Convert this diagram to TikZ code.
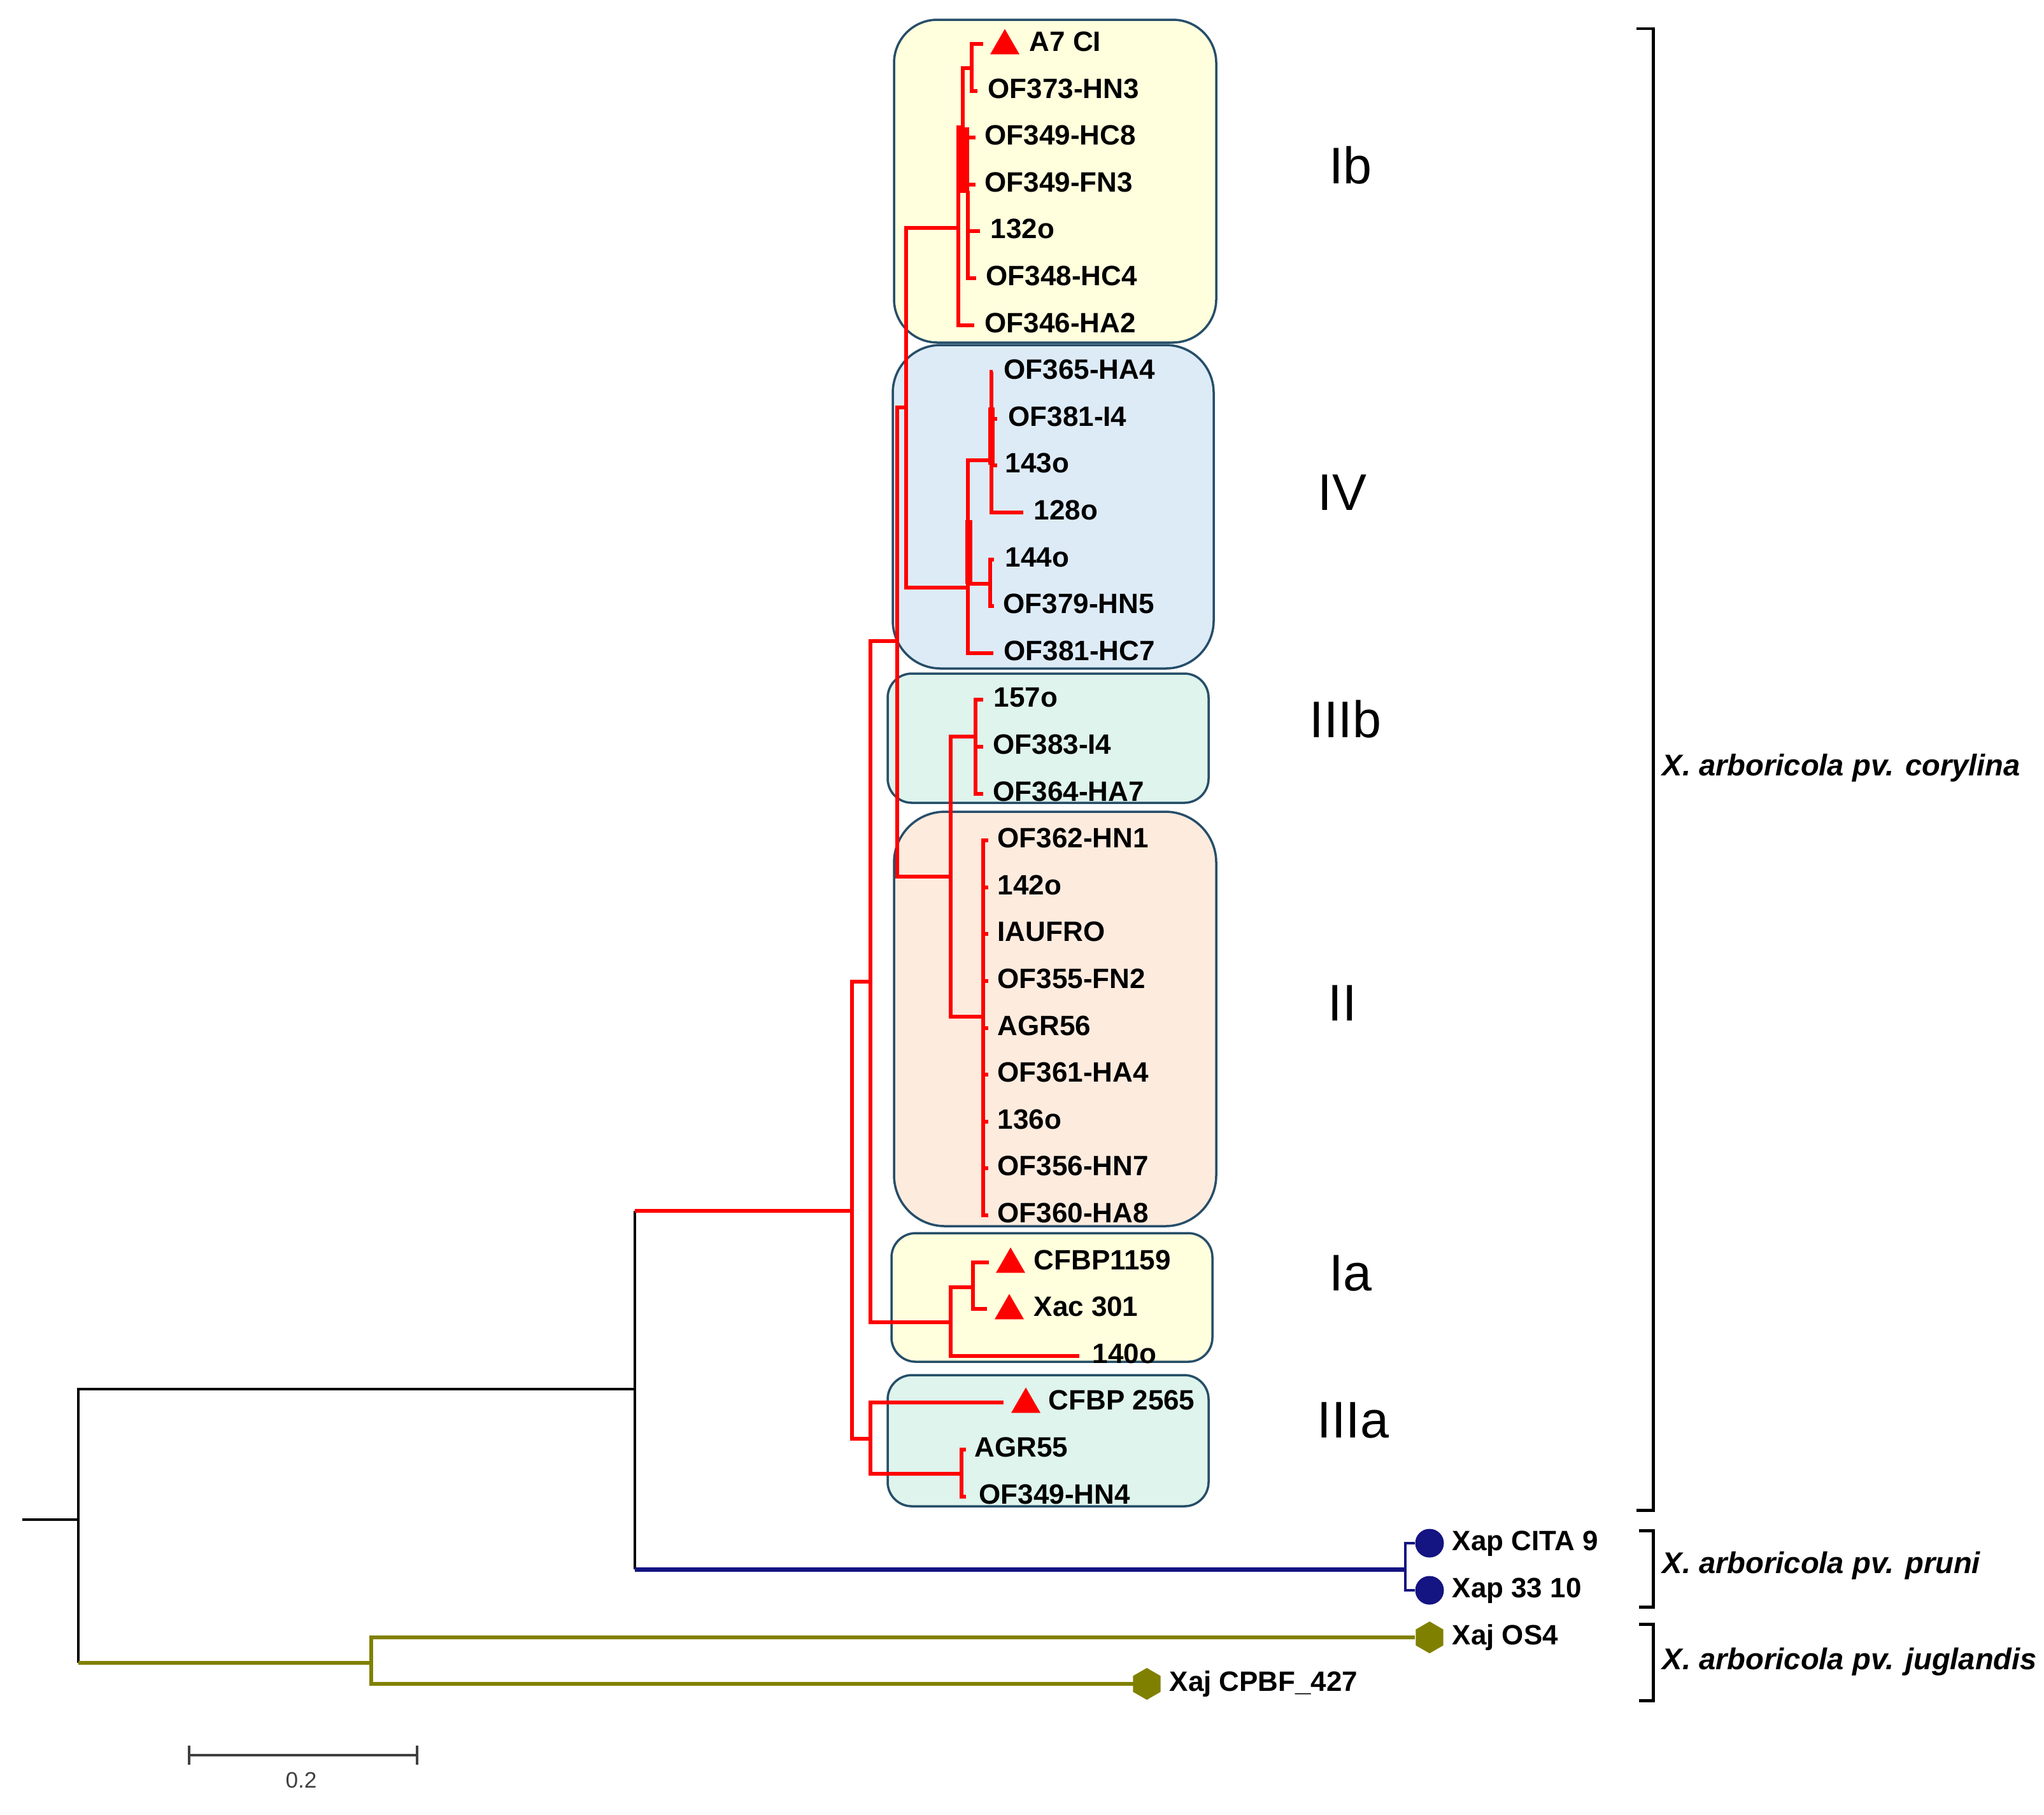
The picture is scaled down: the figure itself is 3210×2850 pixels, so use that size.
\documentclass[tikz,border=0pt]{standalone}
\usepackage{fontspec}
\setmainfont{Liberation Sans}
\usetikzlibrary{shapes.geometric}
\definecolor{ibfill}{RGB}{255,255,221}
\definecolor{ivfill}{RGB}{221,235,247}
\definecolor{iiifill}{RGB}{222,244,236}
\definecolor{iifill}{RGB}{253,235,222}
\definecolor{boxline}{RGB}{38,78,105}
\definecolor{prunicol}{RGB}{20,20,130}
\definecolor{jugcol}{RGB}{128,128,0}
\definecolor{scalecol}{RGB}{64,64,64}
\begin{document}
\begin{tikzpicture}[x=0.01cm, y=-0.01cm,
	leaf/.style={anchor=west, inner sep=0pt, text height=9pt, text depth=0pt, font=\bfseries\fontsize{12.5}{14}\selectfont},
	clade/.style={inner sep=0pt, font=\fontsize{23}{26}\selectfont},
	spec/.style={anchor=west, inner sep=0pt, font=\bfseries\itshape\fontsize{13.4}{15}\selectfont},
	grp/.style={draw=boxline, line width=1pt},
	br/.style={red, line width=1.7pt},
	blk/.style={black, line width=1pt},
	pru/.style={prunicol, line width=2pt},
	jug/.style={jugcol, line width=1.6pt},
	tri/.style={regular polygon, regular polygon sides=3, fill=red, inner sep=0pt, minimum size=0.53cm},
	pdot/.style={circle, fill=prunicol, inner sep=0pt, minimum size=0.45cm},
	jdot/.style={regular polygon, regular polygon sides=6, shape border rotate=30, fill=jugcol, inner sep=0pt, minimum size=0.5cm},
	bracket/.style={black, line width=1.4pt},
	scalebar/.style={scalecol, line width=0.9pt}]
	\fill[white] (0,0) rectangle (3210,2850);
	\draw[grp, fill=ibfill, rounded corners=0.68cm] (1404,31) rectangle (1910,538);
	\draw[grp, fill=ivfill, rounded corners=0.75cm] (1402,542) rectangle (1906,1050);
	\draw[grp, fill=iiifill, rounded corners=0.38cm] (1394,1058) rectangle (1898,1261);
	\draw[grp, fill=iifill, rounded corners=0.8cm] (1404,1275) rectangle (1910,1926);
	\draw[grp, fill=ibfill, rounded corners=0.38cm] (1400,1937) rectangle (1904,2139);
	\draw[grp, fill=iiifill, rounded corners=0.38cm] (1394,2160) rectangle (1898,2366);
	\coordinate (r0) at (35,2387);
	\coordinate (nRoot) at (123,2387);
	\coordinate (nX) at (997,2182);
	\coordinate (nJug) at (583,2612);
	\coordinate (nPru) at (2207,2465);
	\coordinate (nCor) at (1338,1902);
	\coordinate (nCor2) at (1367,1542);
	\coordinate (nUp) at (1409,1007);
	\coordinate (nIbIV) at (1423,640);
	\coordinate (nIb) at (1505,358);
	\coordinate (nIb1) at (1512,200);
	\coordinate (nIb2) at (1520,300);
	\coordinate (nA7) at (1526,107);
	\coordinate (nIV) at (1520,923);
	\coordinate (nIV1) at (1557,723);
	\coordinate (nIV2) at (1555,917);
	\coordinate (nIIIbII) at (1493,1377);
	\coordinate (nIIIb) at (1532,1157);
	\coordinate (nII) at (1544,1597);
	\coordinate (nIa) at (1493,2077);
	\coordinate (nIa1) at (1528,2022);
	\coordinate (nIIIa) at (1367,2260);
	\coordinate (nIIIa1) at (1510,2315);
	\coordinate (tA7) at (1544,69);
	\coordinate (tHN3) at (1535,143);
	\coordinate (tHC8) at (1532,216);
	\coordinate (tFN3) at (1532,290);
	\coordinate (t132) at (1539,363);
	\coordinate (tHC4) at (1533,437);
	\coordinate (tHA2) at (1530,511);
	\coordinate (tHA4) at (1559,584);
	\coordinate (tI4) at (1566,658);
	\coordinate (t143) at (1566,731);
	\coordinate (t128) at (1607,805);
	\coordinate (t144) at (1561,879);
	\coordinate (tHN5) at (1561,952);
	\coordinate (tHC7) at (1560,1026);
	\coordinate (t157) at (1544,1099);
	\coordinate (tI4b) at (1544,1173);
	\coordinate (tHA7) at (1544,1247);
	\coordinate (tHN1) at (1552,1320);
	\coordinate (t142) at (1552,1394);
	\coordinate (tIAU) at (1552,1467);
	\coordinate (tFN2) at (1552,1541);
	\coordinate (tAGR56) at (1552,1615);
	\coordinate (tHA4b) at (1552,1688);
	\coordinate (t136) at (1552,1762);
	\coordinate (tHN7) at (1552,1835);
	\coordinate (tHA8) at (1552,1909);
	\coordinate (tC1159) at (1553,1983);
	\coordinate (tXac) at (1550,2056);
	\coordinate (t140) at (1695,2130);
	\coordinate (tC2565) at (1576,2203);
	\coordinate (tAGR55) at (1517,2277);
	\coordinate (tHN4) at (1517,2351);
	\coordinate (tCITA) at (2222,2424);
	\coordinate (t3310) at (2222,2498);
	\coordinate (tOS4) at (2222,2572);
	\coordinate (tCPBF) at (1780,2645);
	\draw[blk] (r0) -- (nRoot);
	\draw[blk] (nRoot) |- (nX);
	\draw[blk] (nRoot) -- (nRoot |- nJug);
	\draw[blk] (nX |- nCor) -- (nX |- nPru);
	\draw[jug] (nRoot |- nJug) -- (nJug);
	\draw[jug] (nJug) |- (tOS4);
	\draw[jug] (nJug) |- (tCPBF);
	\draw[pru] (nX |- nPru) -- (nPru);
	\draw[prunicol, line width=1.1pt] (nPru) |- (tCITA);
	\draw[prunicol, line width=1.1pt] (nPru) |- (t3310);
	\draw[br] (nX |- nCor) -- (nCor);
	\draw[br] (nCor) |- (nCor2);
	\draw[br] (nCor) |- (nIIIa);
	\draw[br] (nCor2) |- (nUp);
	\draw[br] (nCor2) |- (nIa);
	\draw[br] (nUp) |- (nIbIV);
	\draw[br] (nUp) |- (nIIIbII);
	\draw[br] (nIbIV) |- (nIb);
	\draw[br] (nIbIV) |- (nIV);
	\draw[br] (nIb) |- (nIb1);
	\draw[br] (nIb) |- (tHA2);
	\draw[br] (nIb1) |- (nA7);
	\draw[br] (nIb1) |- (tHC8);
	\draw[br] (nIb1) |- (tFN3);
	\draw[br] (nIb1) |- (nIb2);
	\draw[br] (nIb2) |- (t132);
	\draw[br] (nIb2) |- (tHC4);
	\draw[br] (nA7) |- (tA7);
	\draw[br] (nA7) |- (tHN3);
	\fill[red] (1503,200) rectangle (1522,303);
	\draw[br] (nIV) |- (nIV1);
	\draw[br] (nIV) |- (nIV2);
	\draw[br] (nIV) |- (tHC7);
	\draw[br] (nIV1) |- (tHA4);
	\draw[br] (nIV1) |- (tI4);
	\draw[br] (nIV1) |- (t143);
	\draw[br] (nIV1) |- (t128);
	\draw[br] (nIV2) |- (t144);
	\draw[br] (nIV2) |- (tHN5);
	\fill[red] (1516,817) rectangle (1527,917);
	\fill[red] (1552,640) rectangle (1562,730);
	\draw[br] (nIIIbII) |- (nIIIb);
	\draw[br] (nIIIbII) |- (nII);
	\draw[br] (nIIIb) |- (t157);
	\draw[br] (nIIIb) |- (tI4b);
	\draw[br] (nIIIb) |- (tHA7);
	\draw[br] (nII) |- (tHN1);
	\draw[br] (nII) |- (t142);
	\draw[br] (nII) |- (tIAU);
	\draw[br] (nII) |- (tFN2);
	\draw[br] (nII) |- (tAGR56);
	\draw[br] (nII) |- (tHA4b);
	\draw[br] (nII) |- (t136);
	\draw[br] (nII) |- (tHN7);
	\draw[br] (nII) |- (tHA8);
	\draw[br] (nIa) |- (nIa1);
	\draw[br] (nIa) |- (t140);
	\draw[br] (nIa1) |- (tC1159);
	\draw[br] (nIa1) |- (tXac);
	\draw[br] (nIIIa) |- (tC2565);
	\draw[br] (nIIIa) |- (nIIIa1);
	\draw[br] (nIIIa1) |- (tAGR55);
	\draw[br] (nIIIa1) |- (tHN4);
	\node[tri] (mA7) at (1578,72) {};
	\node[tri] (mC1159) at (1587,1986) {};
	\node[tri] (mXac) at (1585,2059) {};
	\node[tri] (mC2565) at (1611,2206) {};
	\node[pdot] (mCITA) at (2245,2424) {};
	\node[pdot] (m3310) at (2245,2498) {};
	\node[jdot] (mOS4) at (2245,2572) {};
	\node[jdot] (mCPBF) at (1801,2645) {};
	\node[leaf] (A7) at (1616,65) {A7 CI};
	\node[leaf] (OF373HN3) at (1551,139) {OF373-HN3};
	\node[leaf] (OF349HC8) at (1546,212) {OF349-HC8};
	\node[leaf] (OF349FN3) at (1546,286) {OF349-FN3};
	\node[leaf] (s132o) at (1555,359) {132o};
	\node[leaf] (OF348HC4) at (1548,433) {OF348-HC4};
	\node[leaf] (OF346HA2) at (1546,507) {OF346-HA2};
	\node[leaf] (OF365HA4) at (1576,580) {OF365-HA4};
	\node[leaf] (OF381I4) at (1583,654) {OF381-I4};
	\node[leaf] (s143o) at (1578,727) {143o};
	\node[leaf] (s128o) at (1623,801) {128o};
	\node[leaf] (s144o) at (1578,875) {144o};
	\node[leaf] (OF379HN5) at (1575,948) {OF379-HN5};
	\node[leaf] (OF381HC7) at (1576,1022) {OF381-HC7};
	\node[leaf] (s157o) at (1560,1095) {157o};
	\node[leaf] (OF383I4) at (1559,1169) {OF383-I4};
	\node[leaf] (OF364HA7) at (1559,1243) {OF364-HA7};
	\node[leaf] (OF362HN1) at (1566,1316) {OF362-HN1};
	\node[leaf] (s142o) at (1566,1390) {142o};
	\node[leaf] (IAUFRO) at (1566,1463) {IAUFRO};
	\node[leaf] (OF355FN2) at (1566,1537) {OF355-FN2};
	\node[leaf] (AGR56) at (1566,1611) {AGR56};
	\node[leaf] (OF361HA4) at (1566,1684) {OF361-HA4};
	\node[leaf] (s136o) at (1566,1758) {136o};
	\node[leaf] (OF356HN7) at (1566,1831) {OF356-HN7};
	\node[leaf] (OF360HA8) at (1566,1905) {OF360-HA8};
	\node[leaf] (CFBP1159) at (1623,1979) {CFBP1159};
	\node[leaf] (Xac301) at (1623,2052) {Xac 301};
	\node[leaf] (s140o) at (1715,2126) {140o};
	\node[leaf] (CFBP2565) at (1646,2199) {CFBP 2565};
	\node[leaf] (AGR55) at (1530,2273) {AGR55};
	\node[leaf] (OF349HN4) at (1537,2347) {OF349-HN4};
	\node[leaf] (XapCITA) at (2280,2420) {Xap CITA 9};
	\node[leaf] (Xap3310) at (2280,2494) {Xap 33 10};
	\node[leaf] (XajOS4) at (2280,2568) {Xaj OS4};
	\node[leaf] (XajCPBF) at (1836,2641) {Xaj CPBF\_427};
	\node[clade] (cIb) at (2121,260) {Ib};
	\node[clade] (cIV) at (2108,774) {IV};
	\node[clade] (cIIIb) at (2113,1130) {IIIb};
	\node[clade] (cII) at (2108,1576) {II};
	\node[clade] (cIa) at (2121,2000) {Ia};
	\node[clade] (cIIIa) at (2125,2231) {IIIa};
	\draw[bracket] (2570,45) -- (2596,45) -- (2596,2372) -- (2570,2372);
	\draw[bracket] (2574,2404) -- (2596,2404) -- (2596,2524) -- (2574,2524);
	\draw[bracket] (2574,2551) -- (2596,2551) -- (2596,2671) -- (2574,2671);
	\node[spec] (cory) at (2610,1206) {X. arboricola pv. corylina};
	\node[spec] (pruni) at (2610,2459) {X. arboricola pv. pruni};
	\node[spec] (jugl) at (2610,2610) {X. arboricola pv. juglandis};
	\coordinate (s0) at (297,2757);
	\coordinate (s1) at (655,2757);
	\draw[scalebar] (s0) -- (s1);
	\draw[scalebar] ([yshift=0.15cm]s0) -- ([yshift=-0.15cm]s0);
	\draw[scalebar] ([yshift=0.15cm]s1) -- ([yshift=-0.15cm]s1);
	\node[text=scalecol, font=\fontsize{10}{12}\selectfont] (sc) at (473,2796) {0.2};
\end{tikzpicture}
\end{document}
